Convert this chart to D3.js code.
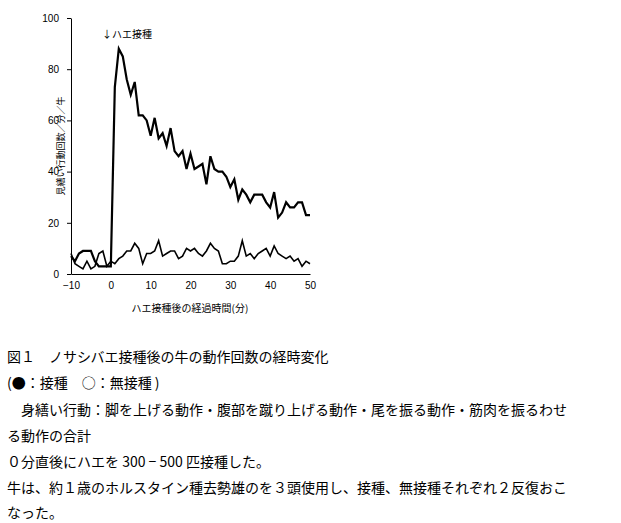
<!DOCTYPE html><html><head><meta charset="utf-8"><script src="https://d3js.org/d3.v7.min.js"></script>
<style>body{margin:0;background:#fff}svg{font-family:"Noto Sans CJK JP",sans-serif}</style></head><body><svg id="c" width="621" height="523"></svg>
<script>
const minutes = d3.range(-10, 51);
const treated = [7,5,8,9,9,9,5,3,3,3,3,73,88,85,76,70,75,62,62,60,54,61,53,55,50,57,48,46,48,41,47,41,42,43,35,46,41,40,40,38,34,37,29,33,31,28,31,31,31,28,26,32,22,24,28,26,26,28,28,23,23];
const control = [8,4,3,2,5,2,3,8,9,3,5,4,6,7,9,9,12,10,4,8,8,9,13,7,8,9,9,6,7,10,9,10,8,7,9,12,10,9,4,4,5,5,7,13,7,8,6,8,9,10,7,11,8,7,6,7,5,6,3,5,4];
const xTicks = [-10,0,10,20,30,40,50];
const yTicks = [0,20,40,60,80,100];
const svg = d3.select("#c");
const x = d3.scaleLinear().domain([-10,50]).range([71,310]);
const y = d3.scaleLinear().domain([0,100]).range([274,18]);
svg.append("g").attr("transform","translate(0,274)").call(d3.axisBottom(x).tickValues(xTicks).tickSize(0).tickPadding(8))
 .call(g=>{g.select(".domain").attr("stroke","#000");g.selectAll("text").attr("font-size",10).attr("fill","#000");});
svg.append("g").attr("transform","translate(71,0)").call(d3.axisLeft(y).tickValues(yTicks).tickSize(4).tickSizeOuter(0).tickPadding(8))
 .call(g=>{g.select(".domain").attr("stroke","#000");g.selectAll("text").attr("font-size",10).attr("fill","#000");});
svg.selectAll(".tick line").attr("stroke","#000");
const line = d3.line().x((d,i)=>x(minutes[i])).y(d=>y(d));
svg.append("path").datum(control).attr("d",line).attr("fill","none").attr("stroke","#000").attr("stroke-width",1.6);
svg.append("path").datum(treated).attr("d",line).attr("fill","none").attr("stroke","#000").attr("stroke-width",2.2);
svg.append("text").attr("x",102).attr("y",38).attr("font-size",10).text("↓ハエ接種");
svg.append("text").attr("x",190).attr("y",312).attr("font-size",10).attr("text-anchor","middle").text("ハエ接種後の経過時間(分)");
svg.append("text").attr("transform","translate(64,146) rotate(-90)").attr("font-size",9).attr("text-anchor","middle").text("見繕い行動回数／分／牛");
const lines = [[7,362,"図１　ノサシバエ接種後の牛の動作回数の経時変化"],[7,388,"(●：接種　○：無接種 )"],[7,415,"　身繕い行動：脚を上げる動作・腹部を蹴り上げる動作・尾を振る動作・筋肉を振るわせ"],[7,441,"る動作の合計"],[7,467,"０分直後にハエを 300 − 500 匹接種した。"],[7,493,"牛は、約１歳のホルスタイン種去勢雄のを３頭使用し、接種、無接種それぞれ２反復おこ"],[7,518,"なった。"]];
svg.selectAll(".cap").data(lines).join("text").attr("x",d=>d[0]).attr("y",d=>d[1]).attr("font-size",14).text(d=>d[2]);
</script></body></html>
